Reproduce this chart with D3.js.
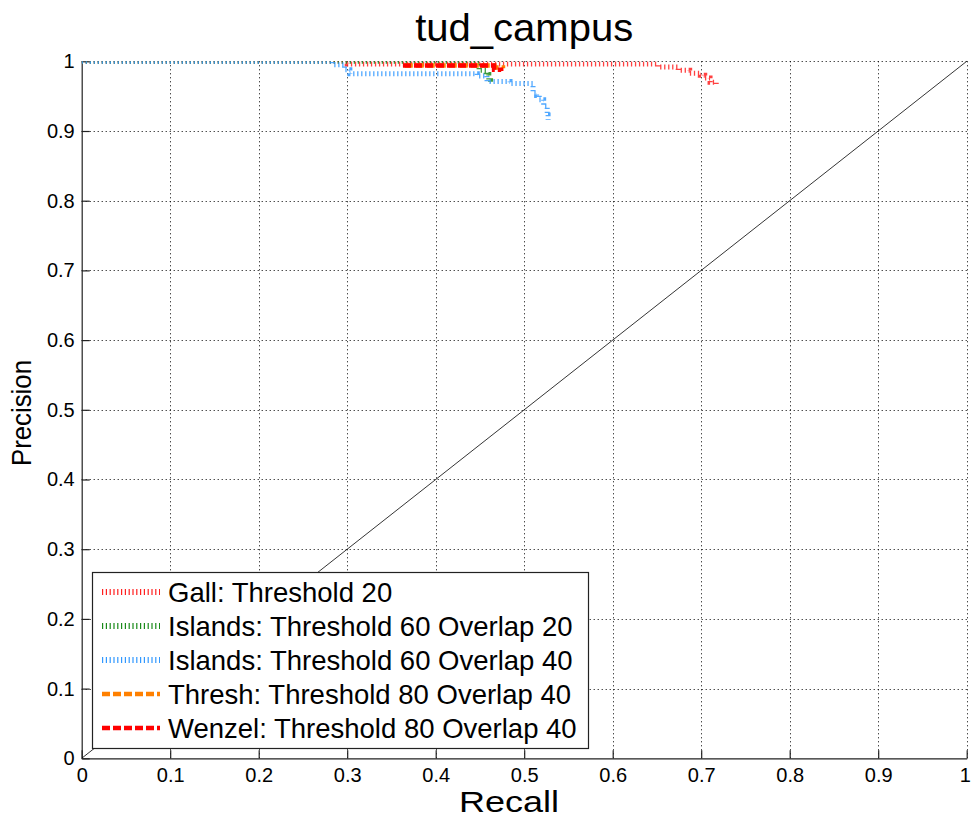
<!DOCTYPE html>
<html>
<head>
<meta charset="utf-8">
<script src="https://cdn.jsdelivr.net/npm/d3@7"></script>
<style>
  body { margin: 0; background: #fff; }
  svg { display: block; font-family: "Liberation Sans", Arial, sans-serif; }
</style>
</head>
<body>
<svg id="chart" width="971" height="817"></svg>
<script>
// Precision/recall points: [recall, precision]
const gall = [[0, 1], [0.30, 0.996], [0.651, 0.992], [0.674, 0.987], [0.687, 0.983],
  [0.699, 0.980], [0.704, 0.976], [0.710, 0.970], [0.717, 0.964]];
const islands20 = [[0, 1], [0.449, 0.987], [0.457, 0.981], [0.460, 0.972], [0.462, 0.967]];
const islands40 = [[0, 1], [0.284, 0.995], [0.297, 0.988], [0.303, 0.982], [0.447, 0.979],
  [0.458, 0.971], [0.484, 0.968], [0.510, 0.955], [0.514, 0.951], [0.517, 0.945],
  [0.522, 0.936], [0.526, 0.923], [0.527, 0.916]];
const thresh = [[0.365, 0.994], [0.462, 0.994], [0.466, 0.991], [0.476, 0.990]];
const wenzel = [[0.363, 0.994], [0.462, 0.994], [0.466, 0.988], [0.474, 0.986]];

const seriesNames = ["Gall: Threshold 20", "Islands: Threshold 60 Overlap 20",
  "Islands: Threshold 60 Overlap 40", "Thresh: Threshold 80 Overlap 40",
  "Wenzel: Threshold 80 Overlap 40"];
const seriesColors = ["#ff2020", "#1a8a1a", "#3399ff", "#ff8000", "#ff0000"];
const ticks = [0, 0.1, 0.2, 0.3, 0.4, 0.5, 0.6, 0.7, 0.8, 0.9, 1];

const series = [gall, islands20, islands40, thresh, wenzel].map((values, i) => ({
  name: seriesNames[i],
  color: seriesColors[i],
  values,
  dashed: i >= 3,
}));

const svg = d3.select("#chart");

// Scales matching the MATLAB axes box
const x = d3.scaleLinear().domain([0, 1]).range([81.7, 966.7]);
const y = d3.scaleLinear().domain([0, 1]).range([758.3, 61.3]);

// Clip the curves to the axes area
svg.append("clipPath").attr("id", "plotClip")
  .append("rect")
  .attr("x", x(0)).attr("y", y(1))
  .attr("width", x(1) - x(0)).attr("height", y(0) - y(1));

// Dotted grid
const grid = svg.append("g").attr("stroke", "#000").attr("stroke-width", 1)
  .attr("stroke-dasharray", "1,3");
grid.selectAll(".gx").data(ticks.slice(1)).join("line")
  .attr("x1", (d) => Math.round(x(d)) + 0.5).attr("x2", (d) => Math.round(x(d)) + 0.5)
  .attr("y1", y(0)).attr("y2", y(1));
grid.selectAll(".gy").data(ticks.slice(1)).join("line")
  .attr("y1", (d) => Math.round(y(d)) + 0.5).attr("y2", (d) => Math.round(y(d)) + 0.5)
  .attr("x1", x(0)).attr("x2", x(1));

// Axes with inward ticks
const xAxis = svg.append("g")
  .attr("transform", `translate(0,${y(0)})`)
  .call(d3.axisBottom(x).tickValues(ticks).tickFormat(d3.format("")).tickSizeInner(-8).tickSizeOuter(0).tickPadding(10));
const yAxis = svg.append("g")
  .attr("transform", `translate(${x(0)},0)`)
  .call(d3.axisLeft(y).tickValues(ticks).tickFormat(d3.format("")).tickSizeInner(-8).tickSizeOuter(0).tickPadding(7));

for (const axis of [xAxis, yAxis]) {
  axis.selectAll("path, line").attr("stroke", "#222").attr("stroke-width", 1.2);
  axis.selectAll("text").attr("font-size", 20).attr("fill", "#000")
    .attr("font-family", "Liberation Sans, Arial, sans-serif");
}
xAxis.selectAll("text").attr("dy", "0.71em");
// last label sits on the window edge, nudge it in a bit
xAxis.selectAll(".tick:last-of-type text").attr("dx", -2);

// Diagonal reference line
svg.append("line")
  .attr("x1", x(0)).attr("y1", y(0)).attr("x2", x(1)).attr("y2", y(1))
  .attr("stroke", "#000").attr("stroke-width", 0.8);

// Curves
const line = d3.line()
  .x((d) => x(d[0]))
  .y((d) => y(d[1]))
  .curve(d3.curveStepAfter);

const plot = svg.append("g").attr("clip-path", "url(#plotClip)");
for (const s of series) {
  plot.append("path")
    .attr("d", line(s.values))
    .attr("fill", "none")
    .attr("stroke", s.color)
    .attr("stroke-width", s.dashed ? 4.5 : 5)
    .attr("stroke-dasharray", s.dashed ? "8,3" : "1.3,2.7")
    .attr("stroke-opacity", s.dashed ? 1 : 0.85);
}

// Title and axis labels
svg.append("text")
  .attr("x", (x(0) + x(1)) / 2).attr("y", 41)
  .attr("text-anchor", "middle").attr("font-size", 39)
  .attr("textLength", 218).attr("lengthAdjust", "spacingAndGlyphs")
  .text("tud_campus");
svg.append("text")
  .attr("x", 509).attr("y", 812)
  .attr("text-anchor", "middle").attr("font-size", 29)
  .attr("textLength", 100).attr("lengthAdjust", "spacingAndGlyphs")
  .text("Recall");
svg.append("text")
  .attr("transform", `translate(31,413) rotate(-90)`)
  .attr("text-anchor", "middle").attr("font-size", 28)
  .attr("textLength", 106).attr("lengthAdjust", "spacingAndGlyphs")
  .text("Precision");

// Legend
const legend = svg.append("g").attr("transform", "translate(92,572)");
legend.append("rect")
  .attr("x", 0.5).attr("y", 0.5).attr("width", 496).attr("height", 176)
  .attr("fill", "#fff").attr("stroke", "#222").attr("stroke-width", 1.2);

const rows = legend.selectAll(".row").data(series).join("g")
  .attr("transform", (d, i) => `translate(0,${20 + i * 34})`);
rows.append("line")
  .attr("x1", 10).attr("x2", 68).attr("y1", 0).attr("y2", 0)
  .attr("stroke", (d) => d.color)
  .attr("stroke-width", (d) => (d.dashed ? 4.5 : 6))
  .attr("stroke-dasharray", (d) => (d.dashed ? "8,3" : "1.2,2.6"));
rows.append("text")
  .attr("x", 76).attr("y", 0).attr("dy", "0.36em")
  .attr("font-size", 27.5)
  .text((d) => d.name);
</script>
</body>
</html>
